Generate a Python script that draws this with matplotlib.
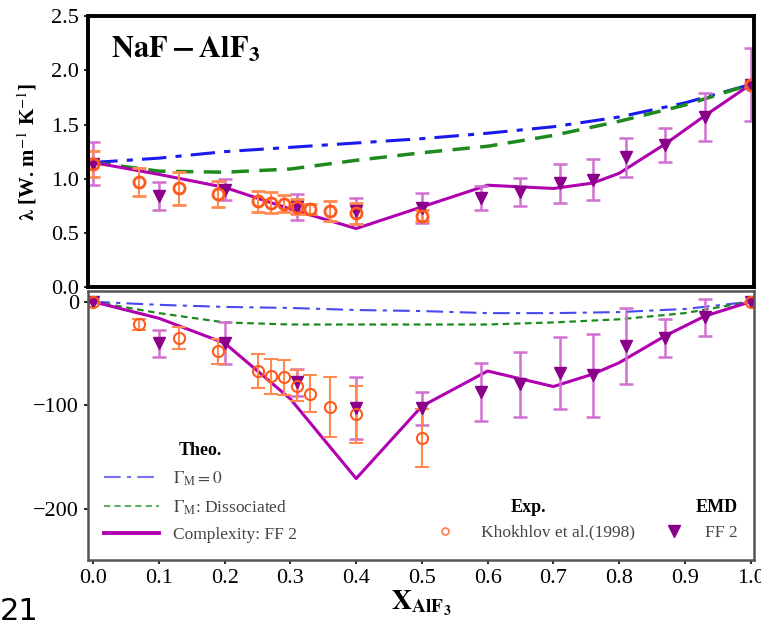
import matplotlib
matplotlib.use("Agg")
import matplotlib.pyplot as plt
from matplotlib.lines import Line2D

plt.rcParams['font.family'] = ['Liberation Serif', 'DejaVu Serif']
plt.rcParams['mathtext.fontset'] = 'stix'

# ---------------- data ----------------
# theoretical curves (top: lambda)
x_theo = [0.0, 0.1, 0.2, 0.3, 0.4, 0.5, 0.6, 0.7, 0.8, 0.9, 1.0]
lam_gamma0 = [1.15, 1.19, 1.25, 1.29, 1.33, 1.37, 1.42, 1.48, 1.57, 1.70, 1.87]
lam_dissoc = [1.15, 1.07, 1.06, 1.09, 1.17, 1.24, 1.30, 1.40, 1.53, 1.68, 1.87]
# theoretical curves (bottom: excess)
dev_gamma0 = [0, -3, -5, -6, -8, -9, -11, -11, -10, -7, 0]
dev_dissoc = [0, -11, -20, -22, -22, -22, -22, -20, -17, -11, 0]

# complexity FF2
x_cx = [0.0, 0.1, 0.2, 0.3, 0.4, 0.5, 0.6, 0.7, 0.76, 0.8, 0.87, 0.93, 1.0]
lam_cx = [1.15, 1.04, 0.92, 0.72, 0.54, 0.74, 0.94, 0.91, 0.96, 1.05, 1.32, 1.58, 1.87]
dev_cx = [0, -16, -40, -94, -171, -101, -67, -82, -70, -59, -33, -14, 0]

# Experiment: Khokhlov et al. (1998)
x_exp = [0.0, 0.07, 0.13, 0.19, 0.25, 0.27, 0.29, 0.31, 0.33, 0.36, 0.40, 0.50, 1.0]
lam_exp = [1.14, 0.97, 0.91, 0.86, 0.79, 0.78, 0.77, 0.74, 0.72, 0.70, 0.68, 0.66, 1.87]
lam_exp_err = [0.12, 0.13, 0.15, 0.12, 0.10, 0.10, 0.08, 0.07, 0.05, 0.09, 0.10, 0.05, 0.02]
dev_exp = [0, -22, -35, -48, -67, -72, -73, -81, -89, -102, -109, -132, 0]
dev_exp_err = [0, 5, 11, 12, 16, 17, 17, 15, 18, 29, 28, 28, 0]

# EMD FF2
x_emd = [0.0, 0.10, 0.20, 0.31, 0.40, 0.50, 0.59, 0.65, 0.71, 0.76, 0.81, 0.87, 0.93, 1.0]
lam_emd = [1.14, 0.84, 0.90, 0.74, 0.70, 0.73, 0.82, 0.88, 0.96, 0.99, 1.20, 1.31, 1.57, 1.87]
lam_emd_err = [0.20, 0.13, 0.10, 0.12, 0.12, 0.14, 0.11, 0.13, 0.18, 0.19, 0.18, 0.16, 0.22, 0.34]
dev_emd = [0, -40, -40, -78, -103, -103, -87, -80, -69, -71, -43, -35, -15, 0]
dev_emd_err = [0, 13, 20, 13, 30, 16, 28, 31, 35, 40, 37, 18, 18, 0]

xticks = [0.0, 0.1, 0.2, 0.3, 0.4, 0.5, 0.6, 0.7, 0.8, 0.9, 1.0]
top_yticks = [0.0, 0.5, 1.0, 1.5, 2.0, 2.5]
bot_yticks = [0, -100, -200]

# ---------------- style ----------------
c_blue = '#1a1aee'
c_green = '#1e8a1e'
c_mag = '#b000b0'
c_tri = '#8b008b'
c_tri_err = '#d070d0'
c_exp = '#ff5a1e'
c_exp_err = '#ff8a50'

fig = plt.figure(figsize=(7.61, 6.26), dpi=100)
ax1 = fig.add_axes([0.1156, 0.5415, 0.875, 0.4325])
ax2 = fig.add_axes([0.1156, 0.105, 0.875, 0.4295])

# ---- top panel ----
ax1.plot(x_theo, lam_gamma0, color=c_blue, ls='-.', lw=2.2, dashes=(8, 3, 2, 3))
ax1.plot(x_theo, lam_dissoc, color=c_green, ls='--', lw=2.5, dashes=(5, 3))
ax1.plot(x_cx, lam_cx, color=c_mag, lw=2.2)
ax1.errorbar(x_emd, lam_emd, yerr=lam_emd_err, fmt='v', color=c_tri, ms=8,
             ecolor=c_tri_err, elinewidth=1.8, capsize=5, capthick=1.8)
ax1.errorbar(x_exp, lam_exp, yerr=lam_exp_err, fmt='o', mfc='none', mec=c_exp, mew=2,
             ms=8, ecolor=c_exp_err, elinewidth=1.5, capsize=5, capthick=1.5)
ax1.set_xlim(-0.008, 1.005)
ax1.set_ylim(0, 2.5)
ax1.set_yticks(top_yticks)
ax1.set_xticks(xticks)
ax1.tick_params(axis='x', labelbottom=False, length=0)
ax1.tick_params(axis='y', labelsize=16, length=3, width=1.2)
for s in ax1.spines.values():
    s.set_linewidth(2.8)
    s.set_color('black')
ax1.text(0.035, 0.93, r'$\mathbf{NaF-AlF_3}$', transform=ax1.transAxes,
         fontsize=22, va='top', ha='left')
ax1.set_ylabel(r'$\mathbf{\lambda}$ [W. m$^{-1}$ K$^{-1}$]', fontsize=15,
               fontweight='bold', labelpad=8)

# ---- bottom panel ----
ax2.plot(x_theo, dev_gamma0, color=c_blue, ls='-.', lw=1.5, alpha=0.8, dashes=(8, 3, 2, 3))
ax2.plot(x_theo, dev_dissoc, color=c_green, ls='--', lw=1.6, dashes=(3, 2))
ax2.plot(x_cx, dev_cx, color=c_mag, lw=2.2)
ax2.errorbar(x_emd, dev_emd, yerr=dev_emd_err, fmt='v', color=c_tri, ms=8,
             ecolor=c_tri_err, elinewidth=1.8, capsize=5, capthick=1.8)
ax2.errorbar(x_exp, dev_exp, yerr=dev_exp_err, fmt='o', mfc='none', mec=c_exp, mew=1.5,
             ms=8, ecolor=c_exp_err, elinewidth=1.5, capsize=5, capthick=1.5)
ax2.set_xlim(-0.008, 1.005)
ax2.set_ylim(-250, 10)
ax2.set_yticks(bot_yticks)
ax2.set_xticks(xticks)
ax2.set_xticklabels([f'{v:.1f}' for v in xticks])
ax2.tick_params(labelsize=16, length=3, width=1.2)
for s in ax2.spines.values():
    s.set_linewidth(1.8)
    s.set_color('#555555')
ax2.set_xlabel(r'$\mathbf{X_{AlF_3}}$', fontsize=20, labelpad=0)

# legends
h_theo = [Line2D([], [], color=c_blue, ls='-.', lw=1.5, alpha=0.6, dashes=(8, 3, 2, 3)),
          Line2D([], [], color=c_green, ls='--', lw=1.5, alpha=0.7, dashes=(3, 2)),
          Line2D([], [], color=c_mag, lw=2.8)]
l_theo = [r'$\Gamma_{\mathrm{M}} = 0$', r'$\Gamma_{\mathrm{M}}$: Dissociated', 'Complexity: FF 2']
leg1 = ax2.legend(h_theo, l_theo, loc='lower left', bbox_to_anchor=(0.0, 0.005),
                  frameon=False, fontsize=12.5, title='Theo.', labelcolor='#444444',
                  handlelength=3.2, labelspacing=0.6)
leg1.get_title().set_fontweight('bold')
leg1.get_title().set_fontsize(13)
ax2.add_artist(leg1)

h_exp = [Line2D([], [], ls='none', marker='o', mfc='none', mec=c_exp, ms=5, mew=1.2, alpha=0.8)]
leg2 = ax2.legend(h_exp, ['Khokhlov et al.(1998)'], loc='lower left',
                  bbox_to_anchor=(0.48, 0.015), frameon=False, fontsize=12.5,
                  title='Exp.', labelcolor='#444444', handlelength=2.5)
leg2.get_title().set_fontweight('bold')
leg2.get_title().set_fontsize(13)
ax2.add_artist(leg2)

h_emd = [Line2D([], [], ls='none', marker='v', color=c_tri, ms=8)]
leg3 = ax2.legend(h_emd, ['FF 2'], loc='lower left', bbox_to_anchor=(0.83, 0.015),
                  frameon=False, fontsize=12.5, title='EMD', labelcolor='#444444',
                  handlelength=2.0)
leg3.get_title().set_fontweight('bold')
leg3.get_title().set_fontsize(13)
leg3._legend_box.align = 'right'

fig.text(0.0, 0.0, '21', fontsize=22, family='DejaVu Sans', va='bottom', ha='left')

fig.savefig('out.png', dpi=100)
